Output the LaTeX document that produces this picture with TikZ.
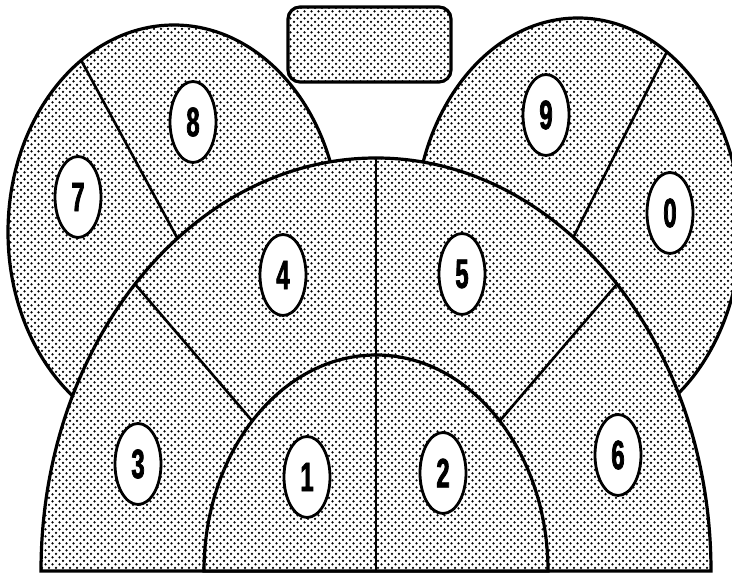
\documentclass[tikz,border=0pt]{standalone}
\usepackage{fontspec}
\newfontfamily\digitfont[FakeStretch=0.58,FakeBold=1.8]{Liberation Sans Bold}
\usetikzlibrary{patterns,shapes.geometric,calc}
\pgfdeclarepatternformonly{halftone}{\pgfqpoint{-1.5pt}{-1.5pt}}{\pgfqpoint{5pt}{5pt}}{\pgfqpoint{7pt}{7pt}}{%
  \pgfpathcircle{\pgfqpoint{0pt}{0pt}}{1.25pt}%
  \pgfpathcircle{\pgfqpoint{3.5pt}{3.5pt}}{1.25pt}%
  \pgfusepath{fill}}
\tikzset{
  region/.style={line width=3.2pt, draw=black, preaction={fill=white}, pattern=halftone, pattern color=black},
  divider/.style={line width=2.6pt, line cap=round},
  lab/.style={ellipse, draw, line width=2.8pt, fill=white, minimum width=46pt, minimum height=81pt, inner sep=0pt,
    font=\digitfont\fontsize{41}{41}\selectfont},
}
\begin{document}
\begin{tikzpicture}[x=1pt,y=1pt]
\useasboundingbox (0,0) rectangle (732,575);
% centres
\coordinate (lc) at (174,343);
\coordinate (rc) at (578,347);
\coordinate (bc) at (376,4);
% side lobes
\draw[region] (lc) ellipse [x radius=166pt, y radius=207pt];
\draw[region] (rc) ellipse [x radius=163pt, y radius=210pt];
\coordinate (lp) at ($(lc)+(124:166pt and 207pt)$);
\coordinate (rp) at ($(rc)+(57:163pt and 210pt)$);
\draw[divider] (lp) -- ($(lp)!1.25!(lc)$);
\draw[divider] (rp) -- ($(rp)!1.25!(rc)$);
% big half
\draw[region] ($(bc)+(-335,0)$) arc[start angle=180, end angle=0, x radius=335pt, y radius=413pt] -- cycle;
% small half
\draw[region] ($(bc)+(-172,0)$) arc[start angle=180, end angle=0, x radius=172pt, y radius=216pt] -- cycle;
% dividers
\coordinate (btop) at ($(bc)+(0,413)$);
\draw[divider] (bc) -- (btop);
\draw[divider] ($(bc)+(136:172pt and 216pt)$) -- ($(bc)+(136:335pt and 413pt)$);
\draw[divider] ($(bc)+(44:172pt and 216pt)$) -- ($(bc)+(44:335pt and 413pt)$);
% top box
\node[region, rectangle, rounded corners=12pt, minimum width=163pt, minimum height=75pt, inner sep=0pt] (box) at (369.5,530.5) {};
% labels
\node[lab] (l1) at (307,98) {1};
\node[lab] (l2) at (443,102) {2};
\node[lab] (l3) at (138,111) {3};
\node[lab] (l4) at (283,300) {4};
\node[lab] (l5) at (462,301) {5};
\node[lab] (l6) at (618,120) {6};
\node[lab] (l7) at (78,378) {7};
\node[lab] (l8) at (193,453) {8};
\node[lab] (l9) at (546,460) {9};
\node[lab] (l0) at (670,362) {0};
\end{tikzpicture}
\end{document}
